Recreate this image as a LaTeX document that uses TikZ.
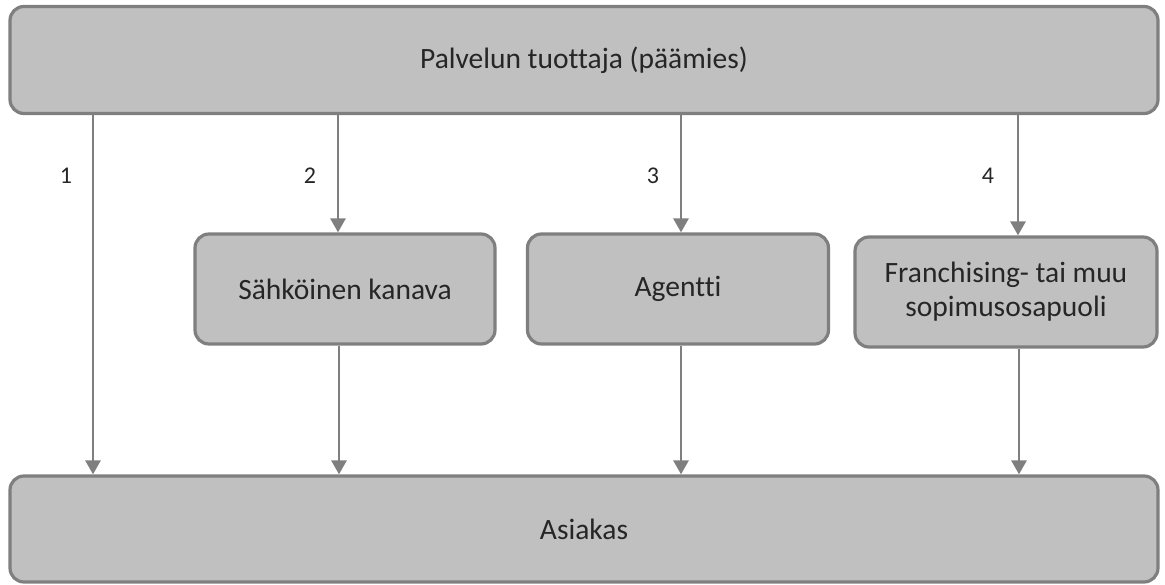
\documentclass[tikz,border=0pt]{standalone}
\usepackage{fontspec}
\setmainfont[Ligatures={NoCommon}]{Carlito}
\usetikzlibrary{arrows.meta}
\definecolor{boxfill}{HTML}{C0C0C0}
\definecolor{boxline}{HTML}{7F7F7F}
\begin{document}
\begin{tikzpicture}[x=1pt,y=-1pt,
  box/.style={draw=boxline,fill=boxfill,line width=3.2pt,rounded corners=14pt,inner sep=0pt,align=center,
    font=\fontsize{29.5}{34}\selectfont,text=black!85},
  conn/.style={draw=boxline,line width=2.8pt,-{Triangle[length=14pt,width=15pt]}},
  lbl/.style={font=\fontsize{24}{28}\selectfont,text=black!85}]
\useasboundingbox (0,0) rectangle (1165,585);
\node[box,minimum width=1148pt,minimum height=107pt] (top) at (584,60) {Palvelun tuottaja (päämies)};
\node[box,minimum width=1148pt,minimum height=106pt] (bot) at (584,529) {Asiakas};
\node[box,minimum width=300pt,minimum height=110pt] (s) at (345,289) {Sähköinen kanava};
\node[box,minimum width=301pt,minimum height=110pt] (a) at (678,289) {Agentti};
\node[box,minimum width=302pt,minimum height=110pt] (f) at (1006,292) {Franchising- tai muu\\sopimusosapuoli};
\draw[conn] (top.south -| 93,0) -- (bot.north -| 93,0);
\draw[conn] (top.south -| 338,0) -- (s.north -| 338,0);
\draw[conn] (s.south -| 339,0) -- (bot.north -| 339,0);
\draw[conn] (top.south -| 681,0) -- (a.north -| 681,0);
\draw[conn] (a.south -| 681,0) -- (bot.north -| 681,0);
\draw[conn] (top.south -| 1018,0) -- (f.north -| 1018,0);
\draw[conn] (f.south -| 1019,0) -- (bot.north -| 1019,0);
\node[lbl] (n1) at (66,176) {1};
\node[lbl] (n2) at (310,176) {2};
\node[lbl] (n3) at (653,176) {3};
\node[lbl] (n4) at (988,176) {4};
\end{tikzpicture}
\end{document}
